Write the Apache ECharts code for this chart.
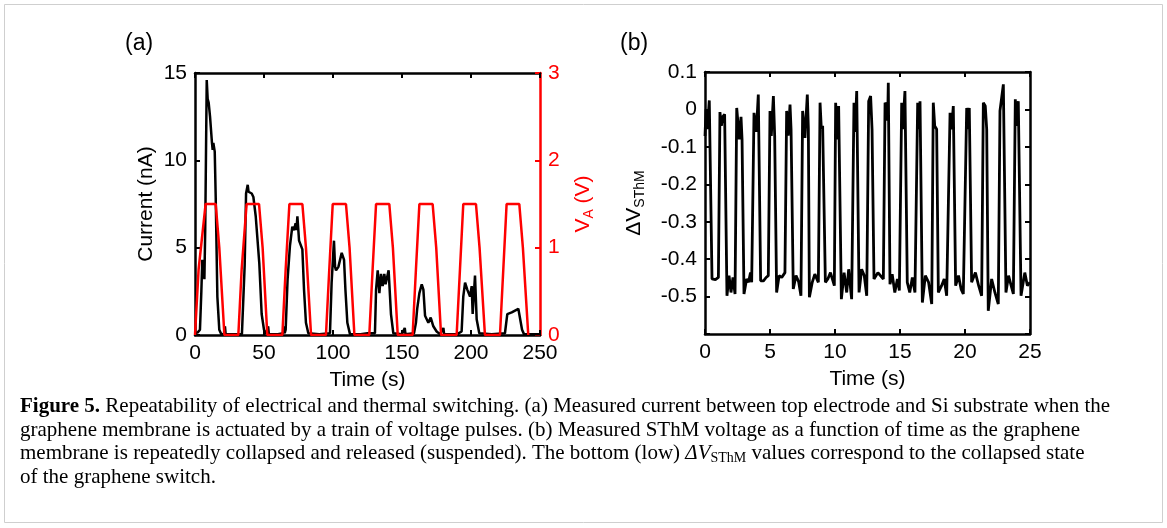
<!DOCTYPE html>
<html>
<head>
<meta charset="utf-8">
<script src="https://cdn.jsdelivr.net/npm/echarts@6/dist/echarts.min.js"></script>
<style>
html,body{margin:0;padding:0;background:#fff;}
#c{width:1167px;height:528px;}
</style>
</head>
<body>
<div id="c"></div>
<script>
// ---------- Data (a): current vs time ----------
var tA = [0,2,3.6,4.6,5.3,6.0,6.8,7.4,8.5,9.2,9.9,10.9,12.3,12.8,13.3,14.3,15.0,16.2,17.6,19.3,21.0,21.7,22.2,28,34,35.0,36.0,37.0,38.2,38.8,39.4,41.1,42.3,44.0,45.4,46.6,48.3,50.0,51.9,53.0,53.5,60,64.0,64.5,65.0,65.7,67.1,68.8,70.5,71.7,72.9,73.5,74.2,75.4,76.8,77.8,79.0,80.4,82.1,90,97.8,99.0,100.7,101.5,102.2,103.9,105,106.3,108.0,109.0,110.4,112.3,120,125,126,130.4,131.2,132.4,133.6,134.8,136.0,137.2,138.1,138.9,140.3,142.0,143.7,150,152,152.5,158.7,160.1,161,162.6,164.3,165.5,166.7,167.9,169.1,170.8,172.7,175.1,177.5,180,180.5,190,193.2,194.4,195.7,197.3,199.3,200.5,201.2,202.9,204.1,206.0,215,224.6,226.3,227.7,229.5,231.9,234.3,235.5,237.0,238.4,250];
var currentA = [0.1,0.15,0.3,2.5,4.3,3.9,3.2,6,14.6,13.5,13.3,12.5,11.0,10.6,11.0,10.5,7.9,2.2,0.3,0.0,0.1,0.5,0.05,0.05,0.05,0.1,4,8.1,8.6,8.2,8.3,8.1,7.9,6.8,6.7,4.1,1.2,0.3,0.05,0.5,0.05,0.05,0.1,0.5,0.1,0.3,3.2,5.1,6.2,6.0,6.4,6.0,6.8,5.4,5.3,4.9,2.6,0.7,0.1,0.05,0.1,3.0,5.4,3.9,3.7,3.9,3.8,4.7,4.3,2.6,0.7,0.05,0.05,0.1,0.2,0.1,2.6,3.7,2.4,3.5,2.8,3.5,2.9,3.0,3.7,1.2,0.1,0.05,0.4,0.05,0.1,0.7,1.5,2.4,2.9,2.6,1.1,1.2,0.7,1.0,0.5,0.2,0.05,0.4,0.05,0.05,0.2,2.2,3.0,2.6,2.2,2.8,1.2,3.4,0.9,0.1,0.05,0.1,1.2,1.1,1.3,1.4,1.5,1.4,0.3,0.05,0.05];
// ---------- Data (a): applied voltage pulses ----------
var tV = [0,2.6,7.7,15.0,17.6,21.3, 31.4,33.8,37.4,46.4,49.0,52.4, 63.3,65.7,68.4,77.8,80.4,84.1, 94.9,97.3,99.8,109.4,112.0,115.5, 126.3,128.7,131.2,140.8,143.4,146.9, 157.7,160.1,162.6,172.2,174.8,178.3, 189.6,192.0,194.4,203.6,206.2,210.1, 221.0,223.4,225.8,235.0,237.6,241.5];
var voltA = [0,0.75,1.5,1.5,1.0,0, 0,0.75,1.5,1.5,1.0,0, 0,0.75,1.5,1.5,1.0,0, 0,0.75,1.5,1.5,1.0,0, 0,0.75,1.5,1.5,1.0,0, 0,0.75,1.5,1.5,1.0,0, 0,0.75,1.5,1.5,1.0,0, 0,0.75,1.5,1.5,1.0,0];
// ---------- Data (b): SThM voltage ----------
var tB = [0,0.08,0.18,0.33,0.54,0.8,1.03,1.15,1.26,1.36,1.51,1.69,1.85,2.0,2.15,2.31,2.44,2.64,2.77,2.85,3.0,3.2,3.35,3.5,3.59,3.77,3.87,3.95,4.10,4.28,4.5,4.7,4.87,5.0,5.10,5.26,5.36,5.51,5.7,5.9,6.15,6.28,6.4,6.54,6.62,6.79,7.0,7.2,7.38,7.51,7.69,7.87,7.95,8.03,8.25,8.45,8.72,8.85,8.95,9.05,9.26,9.45,9.65,9.95,10.05,10.18,10.28,10.49,10.7,10.9,11.05,11.28,11.46,11.55,11.67,11.85,12.05,12.25,12.44,12.59,12.74,12.85,13.0,13.3,13.72,13.85,13.97,14.05,14.10,14.23,14.4,14.6,14.8,14.95,15.13,15.21,15.38,15.56,15.75,15.95,16.15,16.36,16.44,16.54,16.72,16.95,17.2,17.44,17.56,17.67,17.82,17.95,18.2,18.4,18.59,18.85,18.97,19.10,19.28,19.5,19.7,19.87,20.13,20.23,20.33,20.51,20.8,21.05,21.28,21.41,21.56,21.67,21.79,22.05,22.3,22.56,22.69,22.82,22.95,23.15,23.35,23.55,23.72,23.87,23.97,24.10,24.31,24.6,24.8,25.0];
var vB = [-0.071,0,-0.053,0.024,-0.453,-0.455,-0.449,-0.007,-0.044,-0.020,-0.013,-0.498,-0.444,-0.489,-0.449,-0.493,0.004,-0.08,-0.02,-0.08,-0.493,-0.453,-0.462,-0.436,-0.462,-0.009,-0.004,-0.06,0.04,-0.458,-0.458,-0.449,-0.444,-0.004,-0.071,0.036,-0.071,-0.489,-0.444,-0.449,-0.436,-0.004,-0.07,0.013,-0.053,-0.48,-0.444,-0.46,-0.498,-0.004,-0.076,0.04,-0.05,-0.502,-0.462,-0.44,-0.462,0.018,-0.053,-0.044,-0.462,-0.453,-0.436,-0.471,0.018,-0.08,0.009,-0.507,-0.436,-0.489,-0.427,-0.507,0.018,-0.06,0.049,-0.489,-0.427,-0.444,-0.498,0.022,0.036,-0.053,-0.453,-0.436,-0.453,0.018,0.009,-0.03,0.071,-0.467,-0.44,-0.489,-0.453,-0.484,0.018,-0.053,0.049,-0.462,-0.489,-0.449,-0.489,0.018,-0.053,0.022,-0.516,-0.444,-0.462,-0.52,0.018,-0.044,-0.053,-0.489,-0.471,-0.453,-0.498,-0.009,-0.053,0.009,-0.471,-0.444,-0.48,-0.493,0.004,-0.053,0.004,-0.462,-0.436,-0.471,-0.498,0.018,0.009,-0.053,-0.538,-0.453,-0.489,-0.52,-0.004,-0.009,0.067,-0.489,-0.444,-0.471,-0.493,0.027,-0.044,0.022,-0.498,-0.436,-0.471,-0.462];
// ---------- Axis ticks ----------
var ticksTimeA = [0, 250, 50];
var ticksCurrent = [0, 15, 5];
var ticksVolt = [0, 3, 1];
var ticksTimeB = [0, 25, 5];
var ticksDV = [-0.6, 0.1, 0.1];

function zip(a, b) { return a.map(function (x, i) { return [x, b[i]]; }); }

var SANS = 'Liberation Sans';
var SERIF = 'Liberation Serif';
var LBL = { fontFamily: SANS, fontSize: 21, color: '#000' };
var CAP = 21;

function axisCommon(color, showLabel, extra) {
  var o = {
    axisLine: { show: true, onZero: false, lineStyle: { color: color, width: 2.5 } },
    axisTick: { show: true, inside: true, length: 5, lineStyle: { color: color, width: 2 } },
    axisLabel: { show: showLabel, fontFamily: SANS, fontSize: 21, color: color, margin: 8 },
    splitLine: { show: false }
  };
  for (var k in extra) o[k] = extra[k];
  return o;
}

var chart = echarts.init(document.getElementById('c'), null, { renderer: 'canvas' });
var option = {
  backgroundColor: '#fff',
  animation: false,
  grid: [
    { left: 195, top: 73, width: 345, height: 262, show: false },
    { left: 705, top: 72, width: 325, height: 262, show: false }
  ],
  xAxis: [
    axisCommon('#000', true, { gridIndex: 0, type: 'value', position: 'bottom', min: ticksTimeA[0], max: ticksTimeA[1], interval: ticksTimeA[2],
      name: 'Time (s)', nameLocation: 'middle', nameGap: 35, nameTextStyle: LBL }),
    axisCommon('#000', false, { gridIndex: 0, type: 'value', position: 'top', min: ticksTimeA[0], max: ticksTimeA[1], interval: ticksTimeA[2] }),
    axisCommon('#000', true, { gridIndex: 1, type: 'value', position: 'bottom', min: ticksTimeB[0], max: ticksTimeB[1], interval: ticksTimeB[2],
      name: 'Time (s)', nameLocation: 'middle', nameGap: 35, nameTextStyle: LBL }),
    axisCommon('#000', false, { gridIndex: 1, type: 'value', position: 'top', min: ticksTimeB[0], max: ticksTimeB[1], interval: ticksTimeB[2] })
  ],
  yAxis: [
    axisCommon('#000', true, { gridIndex: 0, type: 'value', position: 'left', min: ticksCurrent[0], max: ticksCurrent[1], interval: ticksCurrent[2],
      name: 'Current (nA)', nameLocation: 'middle', nameGap: 38, nameTextStyle: LBL }),
    axisCommon('#ff0000', true, { gridIndex: 0, type: 'value', position: 'right', min: ticksVolt[0], max: ticksVolt[1], interval: ticksVolt[2],
      name: '{v|V}{s|A}{v| (V)}', nameLocation: 'middle', nameGap: 30,
      nameTextStyle: { fontFamily: SANS, fontSize: 21, color: '#ff0000',
        rich: { v: { fontFamily: SANS, fontSize: 21, color: '#ff0000' },
                s: { fontFamily: SANS, fontSize: 14, color: '#ff0000', padding: [12, 0, 0, 0] } } } }),
    axisCommon('#000', true, { gridIndex: 1, type: 'value', position: 'left', min: ticksDV[0], max: ticksDV[1], interval: ticksDV[2],
      axisLabel: { show: true, fontFamily: SANS, fontSize: 21, color: '#000', margin: 8,
        formatter: function (v) { if (Math.abs(v + 0.6) < 1e-9) return ''; return String(Math.round(v * 10) / 10); } },
      name: '{v|ΔV}{s|SThM}', nameLocation: 'middle', nameGap: 58,
      nameTextStyle: { fontFamily: SANS, fontSize: 21, color: '#000',
        rich: { v: { fontFamily: SANS, fontSize: 21, color: '#000' },
                s: { fontFamily: SANS, fontSize: 14, color: '#000', padding: [12, 0, 0, 0] } } } }),
    axisCommon('#000', false, { gridIndex: 1, type: 'value', position: 'right', min: ticksDV[0], max: ticksDV[1], interval: ticksDV[2] })
  ],
  series: [
    { type: 'line', xAxisIndex: 0, yAxisIndex: 0, data: zip(tA, currentA), showSymbol: false, symbol: 'none',
      lineStyle: { color: '#000', width: 2.5 }, z: 3 },
    { type: 'line', xAxisIndex: 0, yAxisIndex: 1, data: zip(tV, voltA), showSymbol: false, symbol: 'none',
      lineStyle: { color: '#ff0000', width: 2.5 }, z: 4 },
    { type: 'line', xAxisIndex: 2, yAxisIndex: 2, data: zip(tB, vB), showSymbol: false, symbol: 'none',
      lineStyle: { color: '#000', width: 2.8 }, z: 3 }
  ],
  graphic: [
    { type: 'rect', shape: { x: 4.5, y: 4.5, width: 1158, height: 518 }, style: { fill: 'none', stroke: '#cfcfcf', lineWidth: 1 }, z: -1 },
    { type: 'text', left: 125, top: 32, style: { text: '(a)', fontFamily: SANS, fontSize: 23, fill: '#000' } },
    { type: 'text', left: 620, top: 32, style: { text: '(b)', fontFamily: SANS, fontSize: 23, fill: '#000' } },
    { type: 'text', left: 20, top: 396, style: {
        text: '{b|Figure 5.} Repeatability of electrical and thermal switching. (a) Measured current between top electrode and Si substrate when the',
        fontFamily: SERIF, fontSize: CAP, fill: '#000',
        rich: { b: { fontFamily: SERIF, fontSize: CAP, fontWeight: 'bold', fill: '#000' } } } },
    { type: 'text', left: 20, top: 419.5, style: {
        text: 'graphene membrane is actuated by a train of voltage pulses. (b) Measured SThM voltage as a function of time as the graphene',
        fontFamily: SERIF, fontSize: CAP, fill: '#000' } },
    { type: 'text', left: 20, top: 443, style: {
        text: 'membrane is repeatedly collapsed and released (suspended). The bottom (low) {i|ΔV}{s|SThM} values correspond to the collapsed state',
        fontFamily: SERIF, fontSize: CAP, fill: '#000',
        rich: { i: { fontFamily: SERIF, fontSize: CAP, fontStyle: 'italic', fill: '#000' },
                s: { fontFamily: SERIF, fontSize: 14, fill: '#000', padding: [9, 0, 0, 0] } } } },
    { type: 'text', left: 20, top: 466.5, style: {
        text: 'of the graphene switch.',
        fontFamily: SERIF, fontSize: CAP, fill: '#000' } }
  ]
};
chart.setOption(option);
</script>
</body>
</html>
